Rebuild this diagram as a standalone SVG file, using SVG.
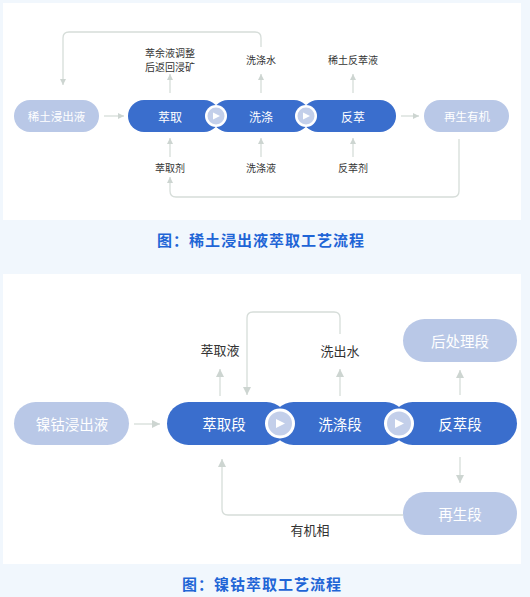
<svg xmlns="http://www.w3.org/2000/svg" width="530" height="597" viewBox="0 0 530 597">
<style>
.bg{fill:#f1f7fd}
.panel{fill:#ffffff}
.dark{fill:#3a6ecd}
.light{fill:#b9c8e7}
.ptxt{fill:#ffffff;font-family:"Noto Sans CJK SC","Noto Sans",sans-serif;text-anchor:middle;dominant-baseline:central}
.lbl{fill:#333333;font-family:"Noto Sans CJK SC","Noto Sans",sans-serif;text-anchor:middle;dominant-baseline:central}
.cap{fill:#1f65d6;font-family:"Noto Sans CJK SC","Noto Sans",sans-serif;font-weight:bold;font-size:15px;letter-spacing:1px;text-anchor:middle;dominant-baseline:central}
.con{fill:none;stroke:#d6ddd9;stroke-width:1.3}
.ring{fill:#ffffff}
.knob{fill:#c3cfea}
.tri{fill:#ffffff}
</style>
<defs>
<marker id="ah" viewBox="0 0 8 8" refX="8" refY="4" markerWidth="6" markerHeight="6" orient="auto" markerUnits="userSpaceOnUse">
<path d="M0,0 L8,4 L0,8 z" fill="#cdd5d1"/>
</marker>
<marker id="ah2" viewBox="0 0 8 8" refX="8" refY="4" markerWidth="8" markerHeight="8" orient="auto" markerUnits="userSpaceOnUse">
<path d="M0,0 L8,4 L0,8 z" fill="#cdd5d1"/>
</marker>
</defs>
<rect class="bg" x="0" y="0" width="530" height="597"/>
<rect class="panel" x="3" y="3" width="518" height="217"/>
<rect class="panel" x="3" y="274" width="518" height="290"/>
<text class="cap" x="261" y="239">图：稀土浸出液萃取工艺流程</text>
<text class="cap" x="262" y="583">图：镍钴萃取工艺流程</text>

<g id="connectors">
<line class="con" x1="104" y1="116" x2="124" y2="116" marker-end="url(#ah)"/>
<line class="con" x1="401" y1="116" x2="419" y2="116" marker-end="url(#ah)"/>
<line class="con" x1="170" y1="93" x2="170" y2="74" marker-end="url(#ah)"/>
<line class="con" x1="261" y1="93" x2="261" y2="74" marker-end="url(#ah)"/>
<line class="con" x1="353" y1="93" x2="353" y2="74" marker-end="url(#ah)"/>
<line class="con" x1="170" y1="157" x2="170" y2="138" marker-end="url(#ah)"/>
<line class="con" x1="261" y1="157" x2="261" y2="138" marker-end="url(#ah)"/>
<line class="con" x1="353" y1="157" x2="353" y2="138" marker-end="url(#ah)"/>
<path class="con" d="M261,47 V38 Q261,32 255,32 H69 Q63,32 63,38 V85" marker-end="url(#ah)"/>
<path class="con" d="M459,139 V191 Q459,197 453,197 H176 Q170,197 170,191 V177" marker-end="url(#ah)"/>

<line class="con" x1="134" y1="424" x2="160" y2="424" marker-end="url(#ah2)"/>
<line class="con" x1="220" y1="396" x2="220" y2="369" marker-end="url(#ah2)"/>
<line class="con" x1="340" y1="396" x2="340" y2="369" marker-end="url(#ah2)"/>
<path class="con" d="M340,334 V318 Q340,312 334,312 H253 Q247,312 247,318 V395" marker-end="url(#ah2)"/>
<line class="con" x1="460" y1="395" x2="460" y2="370" marker-end="url(#ah2)"/>
<line class="con" x1="460" y1="457" x2="460" y2="483" marker-end="url(#ah2)"/>
<path class="con" d="M403,515 H228 Q222,515 222,509 V459" marker-end="url(#ah2)"/>
</g>

<g id="n-xitu">
<rect class="light" x="14" y="100" width="85" height="32" rx="16"/>
<text class="ptxt" x="56.5" y="116" font-size="11.5">稀土浸出液</text>
</g>
<g id="n-cuiqu">
<rect class="dark" x="128" y="100" width="92" height="32" rx="16"/>
<text class="ptxt" x="170" y="116" font-size="12">萃取</text>
</g>
<g id="n-xidi">
<rect class="dark" x="212" y="100" width="98" height="32" rx="16"/>
<text class="ptxt" x="261" y="116" font-size="12">洗涤</text>
</g>
<g id="n-fancui">
<rect class="dark" x="302" y="100" width="94" height="32" rx="16"/>
<text class="ptxt" x="353" y="116" font-size="12">反萃</text>
</g>
<g id="n-zaisheng">
<rect class="light" x="424" y="100" width="85" height="32" rx="16"/>
<text class="ptxt" x="467" y="116" font-size="11.5">再生有机</text>
</g>
<g id="k1">
<circle class="ring" cx="216" cy="116" r="11"/>
<circle class="knob" cx="216" cy="116" r="8.5"/>
<path class="tri" d="M213,112.5 L220,116 L213,119.5 z"/>
</g>
<g id="k2">
<circle class="ring" cx="306" cy="116" r="11"/>
<circle class="knob" cx="306" cy="116" r="8.5"/>
<path class="tri" d="M303,112.5 L310,116 L303,119.5 z"/>
</g>

<g id="labels-top">
<text class="lbl" x="170" y="52" font-size="10">萃余液调整</text>
<text class="lbl" x="170" y="66" font-size="10">后返回浸矿</text>
<text class="lbl" x="261" y="59" font-size="10">洗涤水</text>
<text class="lbl" x="353" y="59" font-size="10">稀土反萃液</text>
<text class="lbl" x="170" y="167" font-size="10">萃取剂</text>
<text class="lbl" x="261" y="167" font-size="10">洗涤液</text>
<text class="lbl" x="353" y="167" font-size="10">反萃剂</text>
</g>

<g id="m-niegu">
<rect class="light" x="14" y="402" width="115" height="43" rx="21.5"/>
<text class="ptxt" x="72" y="423.5" font-size="14.5">镍钴浸出液</text>
</g>
<g id="m-cuiqu">
<rect class="dark" x="167" y="402" width="121" height="43" rx="21.5"/>
<text class="ptxt" x="224" y="423.5" font-size="14.5">萃取段</text>
</g>
<g id="m-xidi">
<rect class="dark" x="272" y="402" width="135" height="43" rx="21.5"/>
<text class="ptxt" x="340" y="423.5" font-size="14.5">洗涤段</text>
</g>
<g id="m-fancui">
<rect class="dark" x="391" y="402" width="126" height="43" rx="21.5"/>
<text class="ptxt" x="460" y="423.5" font-size="14.5">反萃段</text>
</g>
<g id="m-houchuli">
<rect class="light" x="403" y="319" width="114" height="43" rx="21.5"/>
<text class="ptxt" x="460" y="340.5" font-size="14.5">后处理段</text>
</g>
<g id="m-zaisheng">
<rect class="light" x="403" y="492" width="114" height="43" rx="21.5"/>
<text class="ptxt" x="460" y="513.5" font-size="14.5">再生段</text>
</g>
<g id="k3">
<circle class="ring" cx="280" cy="423.5" r="15"/>
<circle class="knob" cx="280" cy="423.5" r="12"/>
<path class="tri" d="M276,419 L285,423.5 L276,428 z"/>
</g>
<g id="k4">
<circle class="ring" cx="399" cy="423.5" r="15"/>
<circle class="knob" cx="399" cy="423.5" r="12"/>
<path class="tri" d="M395,419 L404,423.5 L395,428 z"/>
</g>

<g id="labels-bottom">
<text class="lbl" x="220" y="349" font-size="13">萃取液</text>
<text class="lbl" x="340" y="350" font-size="13">洗出水</text>
<text class="lbl" x="310" y="529" font-size="13">有机相</text>
</g>
</svg>
